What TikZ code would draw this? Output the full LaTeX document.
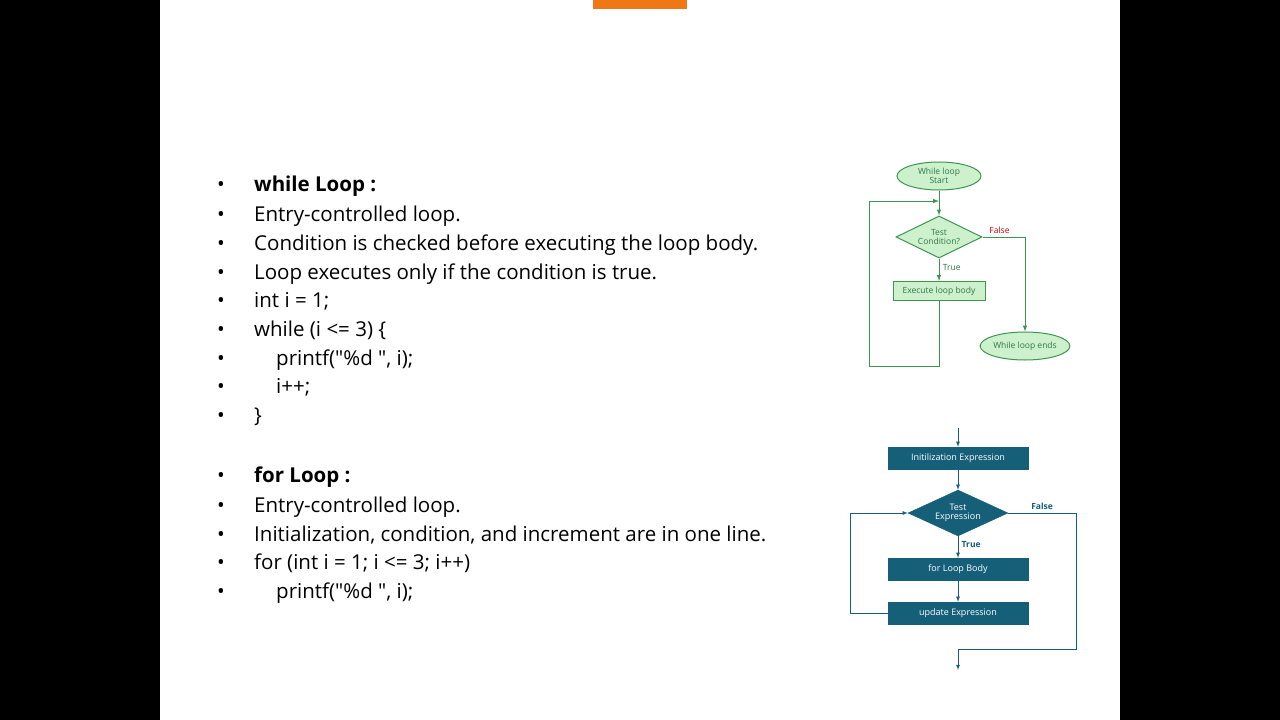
\documentclass[tikz,border=0pt]{standalone}
\usepackage{fontspec}
\setmainfont{Open Sans}
\usetikzlibrary{shapes.geometric,arrows,positioning,calc}
\definecolor{loopgreen}{RGB}{60,150,80}
\definecolor{paleGreen}{RGB}{205,240,205}
\definecolor{forteal}{RGB}{22,95,120}
\definecolor{slideorange}{RGB}{240,120,20}

\begin{document}
\begin{tikzpicture}[
        x=1pt, y=-1pt,
        txt/.style={anchor=base west, inner sep=0pt, font=\fontsize{20.5}{22}\selectfont},
        bul/.style={anchor=base, inner sep=0pt, font=\fontsize{20.5}{22}\selectfont},
        gshape/.style={draw=loopgreen, fill=paleGreen, text=loopgreen!80!black, line width=1pt,
            align=center, inner sep=0pt, font=\fontsize{8.5}{8.5}\selectfont},
        gline/.style={draw=loopgreen, line width=1pt},
        tshape/.style={draw=forteal, fill=forteal, text=white, align=center, inner sep=0pt,
            font=\fontsize{9}{9}\selectfont},
        tline/.style={draw=forteal, line width=0.8pt}
    ]
        % background
        \useasboundingbox (0,0) rectangle (1280,720);
        \fill[black] (0,0) rectangle (1280,720);
        \fill[white] (160,0) rectangle (1120,720);
        \fill[slideorange] (593,0) rectangle (687,9);

        % text lines
        \foreach \yy/\xx/\t [count=\k] in {
            191/254/{\textbf{while Loop :}},
            221/254/{Entry-controlled loop.},
            250/254/{Condition is checked before executing the loop body.},
            279/254/{Loop executes only if the condition is true.},
            307/254/{int i = 1;},
            336/254/{while (i <= 3) \{},
            365/276/{printf(\textquotedbl\%d \textquotedbl, i);},
            393/276/{i++;},
            422/254/{\}},
            482/254/{\textbf{for Loop :}},
            512/254/{Entry-controlled loop.},
            541/254/{Initialization, condition, and increment are in one line.},
            569/254/{for (int i = 1; i <= 3; i++)},
            598/276/{printf(\textquotedbl\%d \textquotedbl, i);}}
        {
            \node[bul] (b\k) at (221,\yy) {\textbullet};
            \node[txt] (t\k) at (\xx,\yy) {\t};
        }

        % while flowchart
        \node[gshape, ellipse, minimum width=84pt, minimum height=28pt] (wstart) at (939,176) {While loop\\Start};
        \node[gshape, diamond, aspect=2, minimum width=86pt, minimum height=42pt] (wtest) at (939,237) {Test\\Condition?};
        \node[gshape, rectangle, minimum width=92pt, minimum height=19pt] (wbody) at (939,291) {Execute loop body};
        \node[gshape, ellipse, minimum width=84pt, minimum height=28pt] (wend) at (1025,346) {While loop ends};
        \coordinate (wjoin) at (939,201);
        \draw[gline] (wstart) -- (wjoin);
        \draw[gline, -latex] (wjoin) -- (wtest);
        \draw[gline, -latex] (wtest) -- node[right, font=\fontsize{8.5}{8.5}\selectfont, text=loopgreen!80!black, pos=0.4] {True} (wbody);
        \draw[gline, -latex] (wbody.south) -- ++(0,65) -| (869,201) -- (wjoin);
        \draw[gline, -latex] (wtest.east) -| node[pos=0.2, above, font=\fontsize{8.5}{8.5}\selectfont, text=red!80!black] {False} (wend.north);

        % for flowchart
        \coordinate (fin) at (958,428);
        \node[tshape, rectangle, minimum width=140pt, minimum height=22pt] (finit) at (958,458) {Initilization Expression};
        \node[tshape, diamond, aspect=2.2, minimum width=100pt, minimum height=46pt] (ftest) at (958,513) {Test\\Expression};
        \node[tshape, rectangle, minimum width=140pt, minimum height=22pt] (fbody) at (958,569) {for Loop Body};
        \node[tshape, rectangle, minimum width=140pt, minimum height=22pt] (fupd) at (958,613) {update Expression};
        \coordinate (fout) at (958,670);
        \draw[tline, -latex] (fin) -- (finit);
        \draw[tline, -latex] (finit) -- (ftest);
        \draw[tline, -latex] (ftest) -- node[right, pos=0.4, text=forteal, font=\bfseries\fontsize{8.5}{8.5}\selectfont] {True} (fbody);
        \draw[tline, -latex] (fbody) -- (fupd);
        \draw[tline, -latex] (fupd.west) -| (850,513) -- (ftest.west);
        \draw[tline, -latex] (ftest.east) -| node[pos=0.25, above, text=forteal, font=\bfseries\fontsize{8.5}{8.5}\selectfont] {False} (1076,649) -| (fout);
\end{tikzpicture}
\end{document}
